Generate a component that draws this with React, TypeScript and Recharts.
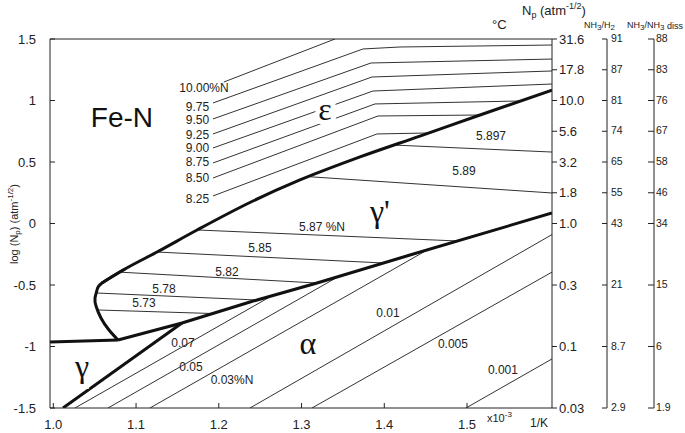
import React from "react";
import { ComposedChart, Line, Scatter, XAxis, YAxis } from "recharts";

const W = 685;
const H = 433;
const INK = "#222";
const THIN = "#333";
const SANS = "'Liberation Sans', Arial, Helvetica, sans-serif";
const SERIF = "'Liberation Serif', 'Times New Roman', serif";

// axes: x = 1/K (x1e-3), y = log Np
const invKDomain = [0.996, 1.6027];
const logNpDomain = [-1.5, 1.5];
const invKTicks = [1.0, 1.1, 1.2, 1.3, 1.4, 1.5];
const logNpTicks = [1.5, 1, 0.5, 0, -0.5, -1, -1.5];
const tempTicks = [1.0276, 1.1453, 1.2148, 1.2935, 1.3827, 1.463];
const tempLabels = ["700", "600", "550", "500", "450", "400"];
const sideTicks = [1.5, 1.25, 1, 0.75, 0.5, 0.25, 0, -0.5, -1, -1.5];
const npLabels = ["31.6", "17.8", "10.0", "5.6", "3.2", "1.8", "1.0", "0.3", "0.1", "0.03"];
const nh3h2Labels = ["91", "87", "81", "74", "65", "55", "43", "21", "8.7", "2.9"];
const nh3dissLabels = ["88", "83", "76", "67", "58", "46", "34", "15", "6", "1.9"];

// phase boundaries
const gammaGammaPrime = [{ x: 0.996, y: -0.963 }, { x: 1.0782, y: -0.947 }];
const gammaAlpha = [{ x: 1.0117, y: -1.5 }, { x: 1.1555, y: -0.809 }];
const gammaPrimeNose = [
  { x: 1.0782, y: -0.947 },
  { x: 1.0673, y: -0.866 },
  { x: 1.0576, y: -0.768 },
  { x: 1.0516, y: -0.671 },
  { x: 1.0504, y: -0.606 },
  { x: 1.0528, y: -0.541 },
  { x: 1.0588, y: -0.484 },
  { x: 1.0866, y: -0.37 },
];
const gammaPrimeUpper = [
  { x: 1.0588, y: -0.484 },
  { x: 1.0866, y: -0.37 },
  { x: 1.1253, y: -0.232 },
  { x: 1.1737, y: -0.053 },
  { x: 1.2413, y: 0.183 },
  { x: 1.2981, y: 0.354 },
  { x: 1.3706, y: 0.541 },
  { x: 1.4431, y: 0.711 },
  { x: 1.5157, y: 0.882 },
  { x: 1.6027, y: 1.085 },
];
const gammaPrimeLower = [
  { x: 1.0782, y: -0.947 },
  { x: 1.1555, y: -0.809 },
  { x: 1.2377, y: -0.638 },
  { x: 1.3187, y: -0.484 },
  { x: 1.4311, y: -0.256 },
  { x: 1.6027, y: 0.085 },
];

// epsilon iso-N lines
const eps1000 = [{ x: 1.206, y: 1.15 }, { x: 1.3404, y: 1.5 }];
const eps975 = [{ x: 1.193, y: 0.98 }, { x: 1.3743, y: 1.419 }, { x: 1.419, y: 1.435 }, { x: 1.6027, y: 1.451 }];
const eps950 = [{ x: 1.193, y: 0.85 }, { x: 1.3839, y: 1.305 }, { x: 1.6027, y: 1.337 }];
const eps925 = [{ x: 1.193, y: 0.728 }, { x: 1.3851, y: 1.191 }, { x: 1.6027, y: 1.24 }];
const eps900 = [{ x: 1.193, y: 0.614 }, { x: 1.3863, y: 1.077 }, { x: 1.6027, y: 1.134 }];
const eps875 = [{ x: 1.193, y: 0.492 }, { x: 1.3888, y: 0.972 }, { x: 1.5646, y: 0.996 }];
const eps850 = [{ x: 1.193, y: 0.37 }, { x: 1.3924, y: 0.874 }, { x: 1.5157, y: 0.882 }];
const eps825 = [{ x: 1.193, y: 0.224 }, { x: 1.3912, y: 0.728 }, { x: 1.4537, y: 0.736 }];

// gamma' iso-N lines
const gp5897 = [{ x: 1.4105, y: 0.638 }, { x: 1.6027, y: 0.581 }];
const gp589 = [{ x: 1.31, y: 0.38 }, { x: 1.6027, y: 0.248 }];
const gp587 = [{ x: 1.1749, y: -0.053 }, { x: 1.4879, y: -0.142 }];
const gp585 = [{ x: 1.1253, y: -0.232 }, { x: 1.3984, y: -0.321 }];
const gp582 = [{ x: 1.079, y: -0.395 }, { x: 1.3187, y: -0.484 }];
const gp578 = [{ x: 1.052, y: -0.565 }, { x: 1.2462, y: -0.622 }];
const gp573 = [{ x: 1.0535, y: -0.703 }, { x: 1.193, y: -0.732 }];

// alpha iso-N lines
const a007 = [{ x: 1.0262, y: -1.5 }, { x: 1.2641, y: -0.588 }];
const a005 = [{ x: 1.0661, y: -1.5 }, { x: 1.3447, y: -0.431 }];
const a003 = [{ x: 1.1168, y: -1.5 }, { x: 1.4522, y: -0.214 }];
const a001 = [{ x: 1.2377, y: -1.5 }, { x: 1.6027, y: -0.09 }];
const a0005 = [{ x: 1.3126, y: -1.5 }, { x: 1.6027, y: -0.395 }];
const a0001 = [{ x: 1.4987, y: -1.5 }, { x: 1.6027, y: -1.101 }];

const thinLines = [
  eps1000, eps975, eps950, eps925, eps900, eps875, eps850, eps825,
  gp5897, gp589, gp587, gp585, gp582, gp578, gp573,
  a007, a005, a003, a001, a0005, a0001,
];

const isoLabels = [
  { text: "10.00%N", x: 1.1821, y: 1.099 },
  { text: "9.75", x: 1.1743, y: 0.95 },
  { text: "9.50", x: 1.1743, y: 0.844 },
  { text: "9.25", x: 1.1743, y: 0.72 },
  { text: "9.00", x: 1.1743, y: 0.614 },
  { text: "8.75", x: 1.1743, y: 0.5 },
  { text: "8.50", x: 1.1743, y: 0.367 },
  { text: "8.25", x: 1.1743, y: 0.197 },
  { text: "5.897", x: 1.529, y: 0.711 },
  { text: "5.89", x: 1.4963, y: 0.427 },
  { text: "5.87 %N", x: 1.3247, y: -0.028 },
  { text: "5.85", x: 1.2498, y: -0.199 },
  { text: "5.82", x: 1.2099, y: -0.394 },
  { text: "5.78", x: 1.1338, y: -0.533 },
  { text: "5.73", x: 1.1096, y: -0.646 },
  { text: "0.07", x: 1.1567, y: -0.972 },
  { text: "0.05", x: 1.1664, y: -1.167 },
  { text: "0.03%N", x: 1.216, y: -1.272 },
  { text: "0.01", x: 1.4045, y: -0.728 },
  { text: "0.005", x: 1.483, y: -0.98 },
  { text: "0.001", x: 1.5434, y: -1.191 },
];

const phaseLabels = [
  { text: "ε", x: 1.3283, y: 0.931 },
  { text: "γ'", x: 1.3947, y: 0.102 },
  { text: "α", x: 1.3078, y: -0.972 },
  { text: "γ", x: 1.0347, y: -1.159 },
];
const titleLabel = [{ text: "Fe-N", x: 1.083, y: 0.858 }];

const BottomTick = (p: any) => (
  <g>
    <line x1={p.x} x2={p.x} y1={p.y} y2={p.y - 5} stroke={INK} />
    <text x={p.x} y={p.y + 16} textAnchor="middle" dominantBaseline="central" fontSize={13} fill={INK} fontFamily={SANS}>
      {Number(p.payload.value).toFixed(1)}
    </text>
  </g>
);

const TopTick = (p: any) => (
  <g>
    <line x1={p.x} x2={p.x} y1={p.y} y2={p.y + 5} stroke={INK} />
    <text x={p.x} y={p.y - 14} textAnchor="middle" dominantBaseline="central" fontSize={13} fill={INK} fontFamily={SANS}>
      {tempLabels[tempTicks.indexOf(p.payload.value)]}
    </text>
  </g>
);

const LeftTick = (p: any) => (
  <g>
    <line x1={p.x} x2={p.x + 5} y1={p.y} y2={p.y} stroke={INK} />
    <text x={p.x - 14} y={p.y} textAnchor="end" dominantBaseline="central" fontSize={13} fill={INK} fontFamily={SANS}>
      {String(p.payload.value)}
    </text>
  </g>
);

const NpTick = (p: any) => (
  <g>
    <line x1={p.x} x2={p.x + 5} y1={p.y} y2={p.y} stroke={INK} />
    <text x={p.x + 7} y={p.y} textAnchor="start" dominantBaseline="central" fontSize={13} fill={INK} fontFamily={SANS}>
      {npLabels[sideTicks.indexOf(p.payload.value)]}
    </text>
  </g>
);

const H2Tick = (p: any) => (
  <g>
    <line x1={p.x - 5} x2={p.x} y1={p.y} y2={p.y} stroke={INK} />
    <text x={p.x + 4} y={p.y - 1} textAnchor="start" dominantBaseline="central" fontSize={10.5} fill={INK} fontFamily={SANS}>
      {nh3h2Labels[sideTicks.indexOf(p.payload.value)]}
    </text>
  </g>
);

const DissTick = (p: any) => (
  <g>
    <line x1={p.x - 6} x2={p.x} y1={p.y} y2={p.y} stroke={INK} />
    <text x={p.x + 2} y={p.y - 1} textAnchor="start" dominantBaseline="central" fontSize={10.5} fill={INK} fontFamily={SANS}>
      {nh3dissLabels[sideTicks.indexOf(p.payload.value)]}
    </text>
  </g>
);

const IsoText = (p: any) => (
  <text x={p.cx} y={p.cy} textAnchor="middle" dominantBaseline="central" fontSize={12} fill={INK} fontFamily={SANS}>
    {p.payload.text}
  </text>
);

const PhaseText = (p: any) => (
  <text
    x={p.cx}
    y={p.cy}
    textAnchor="middle"
    dominantBaseline="central"
    fontSize={32}
    fill="#111"
    fontFamily={SERIF}
    stroke="#fff"
    strokeWidth={10}
    style={{ paintOrder: "stroke" }}
  >
    {p.payload.text}
  </text>
);

const TitleText = (p: any) => (
  <text x={p.cx} y={p.cy} textAnchor="middle" dominantBaseline="central" fontSize={28} fill="#111" fontFamily={SANS}>
    {p.payload.text}
  </text>
);

const small = { fontSize: 8, position: "relative" as const };

const sideAxis = {
  orientation: "right" as const,
  type: "number" as const,
  domain: logNpDomain,
  allowDataOverflow: true,
  ticks: sideTicks,
  interval: 0,
  tickSize: 0,
  tickMargin: 0,
  tickLine: false,
  axisLine: { stroke: INK },
};

export default function App() {
  return (
    <div style={{ position: "absolute", left: 0, top: 0, width: W, height: H, fontFamily: SANS, color: INK, background: "#fff" }}>
      <ComposedChart width={W} height={H} margin={{ top: 0, right: 0, bottom: 0, left: 0 }}>
        <XAxis
          xAxisId="b"
          type="number"
          dataKey="x"
          domain={invKDomain}
          allowDataOverflow
          ticks={invKTicks}
          interval={0}
          height={25}
          tickSize={0}
          tickMargin={0}
          tickLine={false}
          tick={<BottomTick />}
          axisLine={{ stroke: INK }}
        />
        <XAxis
          xAxisId="t"
          orientation="top"
          type="number"
          domain={invKDomain}
          allowDataOverflow
          ticks={tempTicks}
          interval={0}
          height={39}
          tickSize={0}
          tickMargin={0}
          tickLine={false}
          tick={<TopTick />}
          axisLine={{ stroke: INK }}
        />
        <YAxis
          yAxisId="l"
          type="number"
          dataKey="y"
          domain={logNpDomain}
          allowDataOverflow
          ticks={logNpTicks}
          interval={0}
          width={50}
          tickSize={0}
          tickMargin={0}
          tickLine={false}
          tick={<LeftTick />}
          axisLine={{ stroke: INK }}
        />
        {/* right-side scales, stacked outward from the plot */}
        <YAxis yAxisId="r1" {...sideAxis} width={55} tick={<NpTick />} />
        <YAxis yAxisId="r2" {...sideAxis} width={47} tick={<H2Tick />} />
        <YAxis yAxisId="r3" {...sideAxis} width={31} tick={<DissTick />} />

        {thinLines.map((d, i) => (
          <Line
            key={"iso" + i}
            data={d}
            dataKey="y"
            xAxisId="b"
            yAxisId="l"
            type="linear"
            stroke={THIN}
            strokeWidth={1}
            dot={false}
            activeDot={false}
            isAnimationActive={false}
          />
        ))}

        <Line data={gammaGammaPrime} dataKey="y" xAxisId="b" yAxisId="l" type="linear" stroke="#111" strokeWidth={3} dot={false} activeDot={false} isAnimationActive={false} />
        <Line data={gammaAlpha} dataKey="y" xAxisId="b" yAxisId="l" type="linear" stroke="#111" strokeWidth={3} dot={false} activeDot={false} isAnimationActive={false} />
        <Line data={gammaPrimeLower} dataKey="y" xAxisId="b" yAxisId="l" type="linear" stroke="#111" strokeWidth={3} dot={false} activeDot={false} isAnimationActive={false} />
        <Line data={gammaPrimeNose} dataKey="y" xAxisId="b" yAxisId="l" type="natural" stroke="#111" strokeWidth={3} dot={false} activeDot={false} isAnimationActive={false} />
        <Line data={gammaPrimeUpper} dataKey="y" xAxisId="b" yAxisId="l" type="monotone" stroke="#111" strokeWidth={3} dot={false} activeDot={false} isAnimationActive={false} />

        <Scatter data={isoLabels} dataKey="y" xAxisId="b" yAxisId="l" shape={IsoText} isAnimationActive={false} />
        <Scatter data={phaseLabels} dataKey="y" xAxisId="b" yAxisId="l" shape={PhaseText} isAnimationActive={false} />
        <Scatter data={titleLabel} dataKey="y" xAxisId="b" yAxisId="l" shape={TitleText} isAnimationActive={false} />
      </ComposedChart>

      <div style={{ position: "absolute", left: 522, top: 3, fontSize: 13, whiteSpace: "nowrap" }}>
        N<span style={{ ...small, fontSize: 9, top: 3 }}>p</span> (atm<span style={{ ...small, fontSize: 9, top: -6 }}>-1/2</span>)
      </div>
      <div style={{ position: "absolute", left: 584, top: 20, fontSize: 9, whiteSpace: "nowrap" }}>
        NH<span style={{ ...small, top: 2 }}>3</span>/H<span style={{ ...small, top: 2 }}>2</span>
      </div>
      <div style={{ position: "absolute", left: 627, top: 20, fontSize: 9, whiteSpace: "nowrap" }}>
        NH<span style={{ ...small, top: 2 }}>3</span>/NH<span style={{ ...small, top: 2 }}>3</span>
        <span style={{ ...small, fontSize: 9, top: 1 }}> diss</span>
      </div>
      <div style={{ position: "absolute", left: 492, top: 17, fontSize: 13 }}>°C</div>
      <div style={{ position: "absolute", left: 487, top: 412, fontSize: 11, whiteSpace: "nowrap" }}>
        x10<span style={{ ...small, top: -5 }}>-3</span>
      </div>
      <div style={{ position: "absolute", left: 530, top: 416, fontSize: 12 }}>1/K</div>
      <div
        style={{
          position: "absolute",
          left: 14,
          top: 224,
          fontSize: 11,
          whiteSpace: "nowrap",
          transform: "translate(-50%, -50%) rotate(-90deg)",
        }}
      >
        log (N<span style={{ ...small, top: 2 }}>p</span>) (atm<span style={{ ...small, top: -5 }}>-1/2</span>)
      </div>
    </div>
  );
}
